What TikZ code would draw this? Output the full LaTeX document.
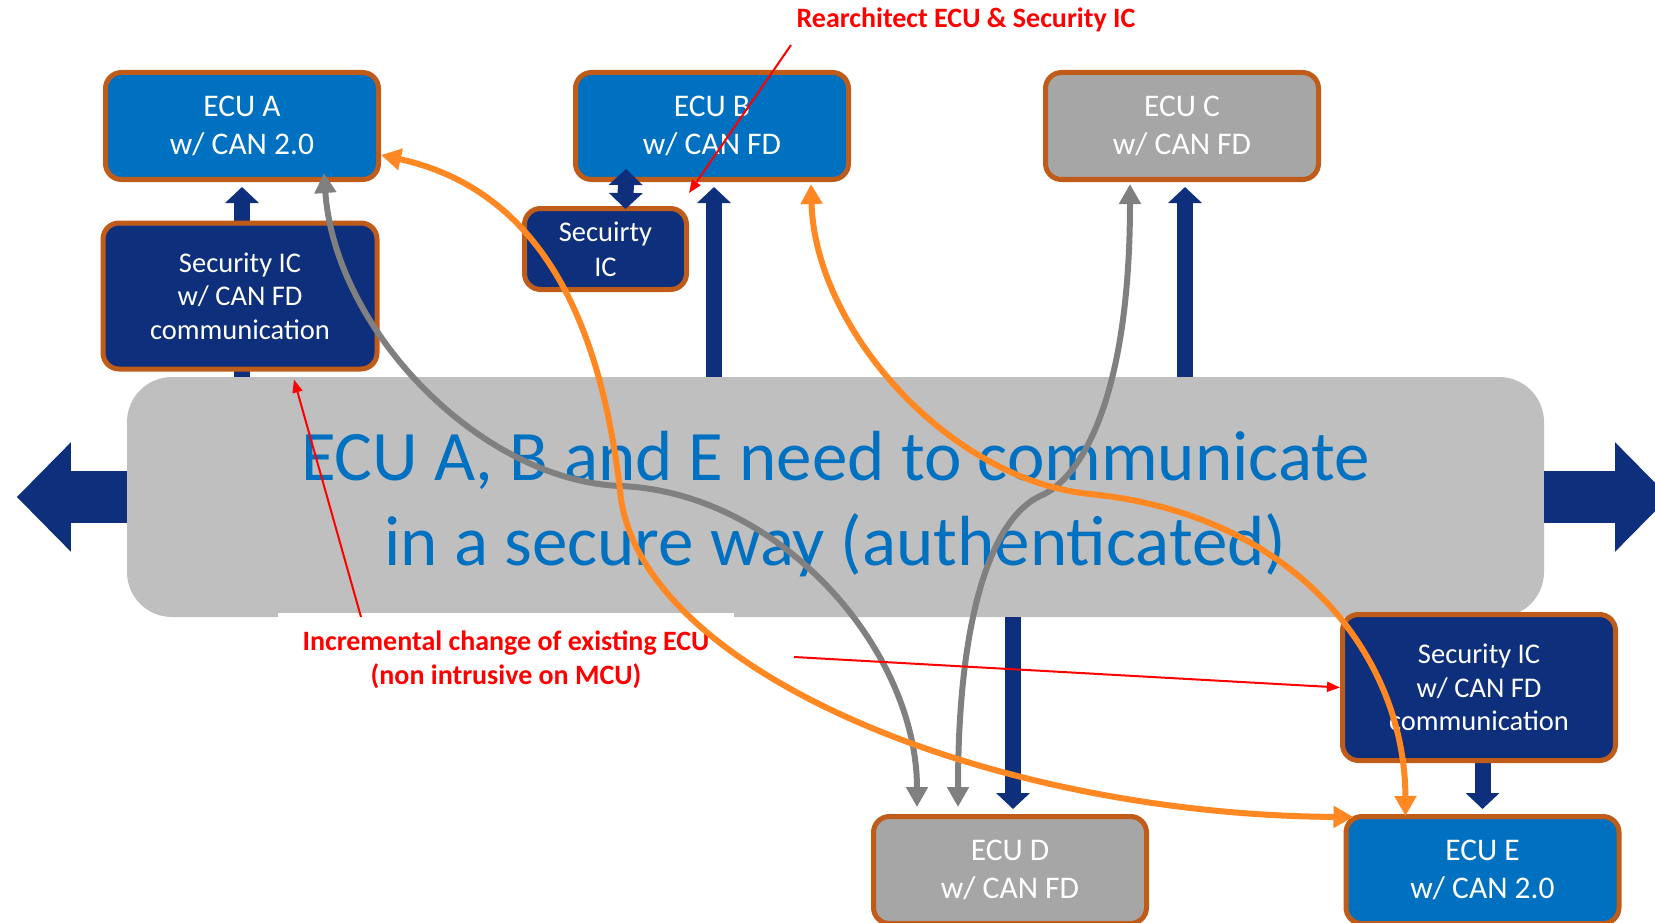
\documentclass[tikz,border=0pt]{standalone}
\usepackage{fontspec}
\setmainfont{Carlito}
\usepackage{xcolor}
\usetikzlibrary{arrows.meta}
\definecolor{ecublue}{RGB}{0,112,192}
\definecolor{icnavy}{RGB}{14,47,123}
\definecolor{rimorange}{RGB}{192,92,26}
\definecolor{boxgray}{RGB}{166,166,166}
\definecolor{busgray}{RGB}{191,191,191}
\definecolor{linkorange}{RGB}{255,136,34}
\definecolor{linkgray}{RGB}{128,128,128}
\tikzset{
  unit/.style={draw=rimorange, line width=5pt, rounded corners=16pt, text=white, align=center, inner sep=0pt},
  ecubox/.style={unit, minimum width=273pt, minimum height=107pt, font=\fontsize{31.5}{38}\selectfont},
  icbox/.style={unit, fill=icnavy},
  busarrow/.style={icnavy, line width=16pt, shorten >=5pt, -{Triangle[length=16pt,width=33pt]}},
  link/.style={line width=6pt, {Triangle[length=20pt,width=21pt]}-{Triangle[length=20pt,width=21pt]}},
  note/.style={text=red, font=\bfseries\fontsize{28}{34}\selectfont, align=center},
  pointer/.style={red, line width=2pt, -{Triangle[length=13pt,width=10pt]}}
}

\begin{document}
\begin{tikzpicture}[x=1pt,y=-1pt]
\useasboundingbox (0,0) rectangle (1655,923);

% bus
\node[fill=busgray, rounded corners=45pt, minimum width=1417pt, minimum height=240pt] (bus) at (835.5,497) {};
\node[text=ecublue, align=center, font=\fontsize{71}{84.5}\selectfont, inner sep=0pt] (msg) at (835.5,504) {ECU A, B and E need to communicate\\in a secure way (authenticated)};
\draw[icnavy, line width=52pt, -{Triangle[length=54pt,width=106pt]}] (bus.west) -- ++(-110,0);
\draw[icnavy, line width=52pt, -{Triangle[length=54pt,width=106pt]}] (bus.east) -- ++(125,0);

% ECUs
\node[ecubox, fill=ecublue] (ecuA) at (242,126) {ECU A\\w/ CAN 2.0};
\node[ecubox, fill=ecublue] (ecuB) at (712,126) {ECU B\\w/ CAN FD};
\node[ecubox, fill=boxgray] (ecuC) at (1182,126) {ECU C\\w/ CAN FD};
\node[ecubox, fill=boxgray] (ecuD) at (1010,870) {ECU D\\w/ CAN FD};
\node[ecubox, fill=ecublue] (ecuE) at (1482.5,870) {ECU E\\w/ CAN 2.0};

\draw[busarrow] (bus.north -| ecuA) -- (ecuA.south);
\draw[busarrow] ([xshift=2pt]bus.north -| ecuB) -- ([xshift=2pt]ecuB.south);
\draw[busarrow] ([xshift=3pt]bus.north -| ecuC) -- ([xshift=3pt]ecuC.south);
\draw[busarrow] ([xshift=3pt]bus.south -| ecuD) -- ([xshift=3pt]ecuD.north);
\draw[busarrow] (bus.south -| ecuE) -- (ecuE.north);

% security ICs
\node[icbox, minimum width=274pt, minimum height=146pt, font=\fontsize{28.5}{33.5}\selectfont] (secA) at (240,296) {Security IC\\w/ CAN FD\\communication};
\node[icbox, minimum width=162pt, minimum height=81pt, font=\fontsize{28.5}{35}\selectfont] (secB) at (605.5,249) {Secuirty\\IC};
\node[icbox, minimum width=273pt, minimum height=146pt, font=\fontsize{28.5}{33.5}\selectfont] (secE) at (1479,687.5) {Security IC\\w/ CAN FD\\communication};

\draw[icnavy, line width=16pt, {Triangle[length=16pt,width=33pt]}-{Triangle[length=16pt,width=33pt]}] ([xshift=20pt,yshift=-3pt]secB.north) -- ([xshift=-86pt,yshift=13pt]ecuB.south);

% notes
\node[note, anchor=base] (rearch) at (966,28) {Rearchitect ECU \& Security IC};
\node[note, fill=white, anchor=north, minimum width=456pt, inner xsep=0pt, inner ysep=18pt] (incr) at (506,613) {Incremental change of existing ECU\\(non intrusive on MCU)};

% links
\draw[link, linkgray] ([xshift=82pt,yshift=9pt]ecuA.south) .. controls (335,330) and (480,480) .. (620,486) .. controls (780,492) and (917,650) .. ([xshift=-93pt,yshift=7pt]ecuD.north);
\draw[link, linkgray] ([xshift=-52pt,yshift=-2pt]ecuC.south) .. controls (1130,400) and (1080,480) .. (1040,496) .. controls (990,520) and (958,620) .. ([xshift=-52pt,yshift=7pt]ecuD.north);
\draw[link, linkorange] ([yshift=-29pt]ecuA.east) .. controls (540,190) and (600,320) .. (620,490) .. controls (635,670) and (990,815) .. ([xshift=10pt,yshift=-3pt]ecuE.north west);
\draw[link, linkorange] ([xshift=99pt,yshift=-2pt]ecuB.south) .. controls (815,330) and (950,480) .. (1090,494) .. controls (1300,515) and (1405,660) .. ([xshift=-77pt,yshift=-2pt]ecuE.north);

% pointers
\coordinate (rearchtail) at (791,45);
\coordinate (incrtail) at (794,657);
\draw[pointer] (rearchtail) -- ([yshift=13pt]secB.north east);
\draw[pointer] ([xshift=-145pt,yshift=-4pt]incr.north) -- ([xshift=54pt,yshift=-8pt]secA.south);
\draw[pointer] (incrtail) -- (secE.west);
\end{tikzpicture}
\end{document}
